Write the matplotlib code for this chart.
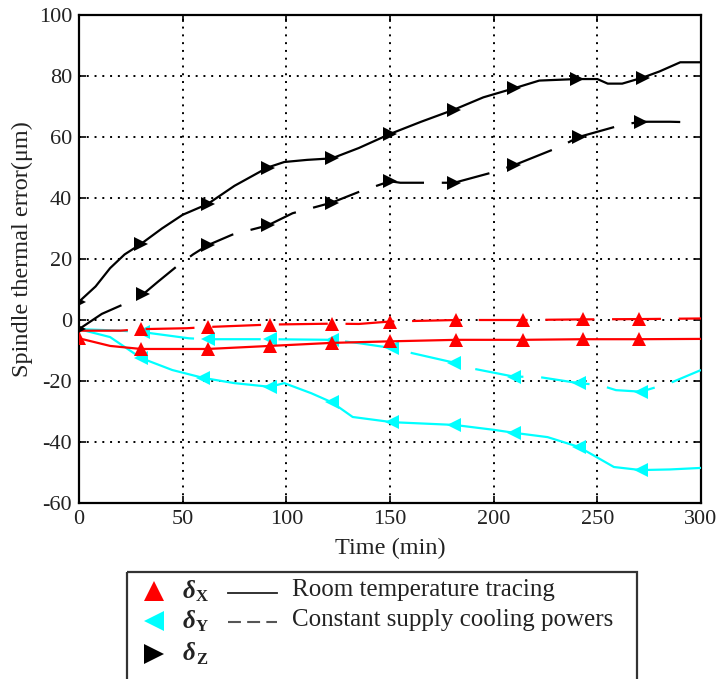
import numpy as np
import matplotlib
matplotlib.use("Agg")
import matplotlib.pyplot as plt
from matplotlib.patches import Rectangle

plt.rcParams['font.family'] = ['Liberation Serif', 'DejaVu Serif']
plt.rcParams['axes.unicode_minus'] = False

# ---------------- data ----------------
# delta Z, room temperature tracing (solid)
tz_s = [0, 8, 15, 22, 30, 40, 50, 62, 75, 91, 99, 110, 122, 135, 150, 165, 181, 195, 210, 222, 240, 250, 255, 262, 272, 280, 290, 300]
vz_s = [6, 11, 17, 21.5, 25, 30, 34.5, 38, 44, 50, 51.8, 52.5, 53, 56.4, 61, 65, 69, 73, 76, 78.5, 79, 79, 77.5, 77.5, 79.5, 81.5, 84.5, 84.5]
mz_s = [0, 30, 62, 91, 122, 150, 181, 210, 240, 272]

# delta Z, constant supply cooling powers (dashed)
tz_d = [0, 11, 21, 31, 38, 47, 55, 62, 74, 91, 103, 122, 135, 150, 155, 170, 181, 200, 210, 232, 241, 262, 271, 285, 297]
vz_d = [-3, 2, 5, 8.5, 12.5, 17.5, 21.5, 24.5, 28, 31, 35, 38.5, 42, 45.5, 45, 45, 45, 48.5, 50.8, 56.8, 60, 64, 65, 65, 64.8]
mz_d = [0, 31, 62, 91, 122, 150, 181, 210, 241, 271]

# delta X, solid
tx_s = [0, 15, 30, 62, 92, 122, 150, 182, 214, 243, 270, 300]
vx_s = [-6, -8.5, -9.5, -9.5, -8.5, -7.5, -7, -6.5, -6.5, -6.3, -6.3, -6.2]
mx_s = [0, 30, 62, 92, 122, 150, 182, 214, 243, 270]

# delta X, dashed
tx_d = [0, 20, 30, 52, 62, 92, 122, 135, 150, 182, 214, 243, 270, 300]
vx_d = [-3.5, -3.5, -3, -2.7, -2.3, -1.5, -1.2, -1.3, -0.5, 0, 0, 0.2, 0.3, 0.5]
mx_d = [30, 62, 92, 122, 150, 182, 214, 243, 270]

# delta Y, solid
ty_s = [0, 15, 30, 45, 60, 75, 92, 99, 112, 122, 132, 151, 181, 200, 210, 226, 241, 258, 271, 285, 300]
vy_s = [-3, -5.6, -12.5, -16.4, -19, -20.7, -21.9, -20.7, -24, -27, -31.8, -33.5, -34.4, -36, -37, -38.4, -41.6, -48.2, -49.2, -49, -48.5]
my_s = [30, 60, 92, 122, 151, 181, 210, 241, 271]

# delta Y, dashed
ty_d = [0, 20, 31, 53, 62, 92, 122, 135, 151, 159, 181, 189, 210, 221, 241, 251, 259, 271, 285, 300]
vy_d = [-3, -3.5, -4, -6, -6.3, -6.3, -6.5, -7.6, -9.2, -10.6, -14, -15.8, -18.6, -18.6, -20.7, -21.3, -23, -23.5, -20.7, -16.4]
my_d = [31, 62, 92, 122, 151, 181, 210, 241, 271]

xticks = [0, 50, 100, 150, 200, 250, 300]
yticks = [-60, -40, -20, 0, 20, 40, 60, 80, 100]

RED = '#ff0000'
CYAN = '#00ffff'
BLACK = '#000000'
TXT = '#222222'
DASH = (0, (22, 8))

fig = plt.figure(figsize=(7.21, 6.79), dpi=100)
ax = fig.add_axes([79/721, 1-503/679, (701-79)/721, (503-15)/679])

def draw(t, v, marks, color, marker, ls):
    t = np.asarray(t, float)
    idx = list(np.where(np.isin(t, marks))[0])
    ax.plot(t, v, color=color, lw=1.6, linestyle=ls, marker=marker, ms=10,
            markevery=idx, markeredgewidth=0, zorder=3)

draw(ty_s, vy_s, my_s, CYAN, '<', '-')
draw(ty_d, vy_d, my_d, CYAN, '<', DASH)
draw(tx_s, vx_s, mx_s, RED, '^', '-')
draw(tx_d, vx_d, mx_d, RED, '^', DASH)
draw(tz_s, vz_s, mz_s, BLACK, '>', '-')
draw(tz_d, vz_d, mz_d, BLACK, '>', DASH)

ax.set_xlim(0, 300)
ax.set_ylim(-60, 100)
ax.set_xticks(xticks)
ax.set_yticks(yticks)
ax.grid(True, color='black', linestyle=(0, (1, 3)), lw=1.4)
for s in ax.spines.values():
    s.set_linewidth(1.6)
ax.tick_params(direction='in', length=5, width=1.2, labelsize=16, labelcolor=TXT,
               top=True, right=True, pad=5)
ax.set_xlabel('Time (min)', fontsize=17.5, color=TXT)
ax.xaxis.set_label_coords(0.5, -0.072)
ax.set_ylabel('Spindle thermal error(\u03bcm)', fontsize=17.5, color=TXT)
ax.yaxis.set_label_coords(-0.074, 0.52)

# ---------------- legend (pixel coordinates) ----------------
lg = fig.add_axes([0, 0, 1, 1])
lg.set_xlim(0, 721)
lg.set_ylim(679, 0)
lg.axis('off')
lg.add_patch(Rectangle((127, 572), 510, 130, fill=False, edgecolor='#333333', lw=1.6))
rows = [591, 621, 654]
for y, c, m, sub in zip(rows, [RED, CYAN, BLACK], ['^', '<', '>'], ['X', 'Y', 'Z']):
    lg.plot([154], [y], marker=m, color=c, ms=15, markeredgewidth=0)
    lg.text(183, y, '\u03b4', fontsize=18, fontweight='bold', fontstyle='italic',
            va='center', ha='left', color=TXT)
    lg.text(196, y + 6, sub, fontsize=12, fontweight='bold', va='center', ha='left',
            color=TXT)
lg.plot([228, 277], [rows[0] + 2, rows[0] + 2], color='#222222', lw=1.3)
lg.plot([228, 277], [rows[1] + 1, rows[1] + 1], color='#555555', lw=1.5,
        linestyle=(0, (6.2, 3)))
lg.text(292, rows[0] - 1, 'Room temperature tracing', fontsize=18, va='center',
        ha='left', color=TXT)
lg.text(292, rows[1] - 1, 'Constant supply cooling powers', fontsize=18, va='center',
        ha='left', color=TXT)

fig.savefig('out.png', dpi=100)
